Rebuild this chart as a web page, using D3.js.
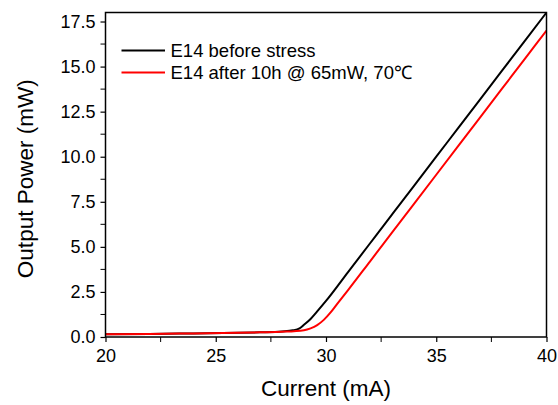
<!DOCTYPE html>
<html>
<head>
<meta charset="utf-8">
<script src="https://cdn.jsdelivr.net/npm/d3@7"></script>
<style>
  html, body { margin: 0; padding: 0; background: #fff; }
  svg { display: block; font-family: "Liberation Sans", Arial, Helvetica, sans-serif; }
</style>
</head>
<body>
<svg id="chart" width="558" height="405"></svg>
<script>
// L-I curves of device E14 before and after stress
const currentBefore = [20, 22, 24, 26, 27, 28, 28.5, 28.8, 29.0, 29.3, 29.6, 30, 31, 32, 33, 34, 35, 36, 37, 38, 39, 40];
const powerBefore   = [0.15, 0.17, 0.2, 0.23, 0.26, 0.31, 0.37, 0.48, 0.68, 1.0, 1.42, 2.0, 3.6, 5.2, 6.8, 8.4, 10.0, 11.6, 13.2, 14.8, 16.4, 18.0];

const currentAfter = [20, 22, 24, 26, 27, 28, 29, 29.3, 29.6, 29.9, 30.2, 30.5, 31, 32, 33, 34, 35, 36, 37, 38, 39, 40];
const powerAfter   = [0.15, 0.17, 0.2, 0.23, 0.26, 0.29, 0.38, 0.48, 0.66, 0.95, 1.35, 1.82, 2.6, 4.2, 5.8, 7.4, 9.0, 10.6, 12.2, 13.8, 15.4, 17.0];

const seriesNames  = ["E14 before stress", "E14 after 10h @ 65mW, 70\u2103"];
const seriesColors = ["#000000", "#ff0000"];

const xTicks = [20, 25, 30, 35, 40];
const yTicks = [0, 2.5, 5, 7.5, 10, 12.5, 15, 17.5];
const xMinor = [22.5, 27.5, 32.5, 37.5];
const yMinor = [1.25, 3.75, 6.25, 8.75, 11.25, 13.75, 16.25];

const svg = d3.select("#chart");
const m = { left: 105.5, right: 546.5, top: 12.5, bottom: 337 };

const x = d3.scaleLinear().domain([20, 40]).range([m.left, m.right]);
const y = d3.scaleLinear().domain([0, 18]).range([m.bottom, m.top]);

const series = [
  currentBefore.map((c, i) => [c, powerBefore[i]]),
  currentAfter.map((c, i) => [c, powerAfter[i]])
];

// data lines, clipped to the frame
svg.append("defs").append("clipPath").attr("id", "plot")
  .append("rect").attr("x", m.left).attr("y", m.top)
  .attr("width", m.right - m.left).attr("height", m.bottom - m.top);

const line = d3.line().x(d => x(d[0])).y(d => y(d[1])).curve(d3.curveMonotoneX);

svg.append("g").attr("clip-path", "url(#plot)")
  .selectAll("path").data(series).join("path")
  .attr("d", line)
  .attr("fill", "none")
  .attr("stroke", (d, i) => seriesColors[i])
  .attr("stroke-width", 2);

// frame
svg.append("rect")
  .attr("x", m.left).attr("y", m.top)
  .attr("width", m.right - m.left).attr("height", m.bottom - m.top)
  .attr("fill", "none").attr("stroke", "#000").attr("stroke-width", 1.5);

// x axis
const xAxis = svg.append("g").attr("transform", `translate(0,${m.bottom})`)
  .call(d3.axisBottom(x).tickValues(xTicks).tickSize(5).tickPadding(7).tickFormat(d3.format("d")));
xAxis.append("g").selectAll("line").data(xMinor).join("line")
  .attr("x1", d => x(d)).attr("x2", d => x(d)).attr("y1", 0).attr("y2", 5)
  .attr("stroke", "#000").attr("stroke-width", 1);

// y axis
const yAxis = svg.append("g").attr("transform", `translate(${m.left},0)`)
  .call(d3.axisLeft(y).tickValues(yTicks).tickSize(5).tickPadding(5).tickFormat(d3.format(".1f")));
yAxis.append("g").selectAll("line").data(yMinor).join("line")
  .attr("y1", d => y(d)).attr("y2", d => y(d)).attr("x1", 0).attr("x2", -5)
  .attr("stroke", "#000").attr("stroke-width", 1);

[xAxis, yAxis].forEach(g => {
  g.select(".domain").remove();
  g.selectAll(".tick line").attr("stroke", "#000").attr("stroke-width", 1.2);
  g.selectAll(".tick text").attr("fill", "#000")
    .style("font-size", "18px")
    .style("font-family", "'Liberation Sans', Arial, sans-serif");
});

// axis titles
svg.append("text")
  .attr("x", (m.left + m.right) / 2).attr("y", 396)
  .attr("text-anchor", "middle")
  .style("font-size", "22.5px")
  .text("Current (mA)");

svg.append("text")
  .attr("transform", `translate(33,${(m.top + m.bottom) / 2 + 4}) rotate(-90)`)
  .attr("text-anchor", "middle")
  .style("font-size", "22.5px")
  .text("Output Power (mW)");

// legend
const legend = svg.append("g");
seriesNames.forEach((name, i) => {
  const yy = 50.5 + i * 22;
  legend.append("line")
    .attr("x1", 121.5).attr("x2", 165).attr("y1", yy).attr("y2", yy)
    .attr("stroke", seriesColors[i]).attr("stroke-width", 2);
  legend.append("text")
    .attr("x", 170.5).attr("y", yy + 6)
    .style("font-size", "18.5px")
    .text(name);
});
</script>
</body>
</html>
